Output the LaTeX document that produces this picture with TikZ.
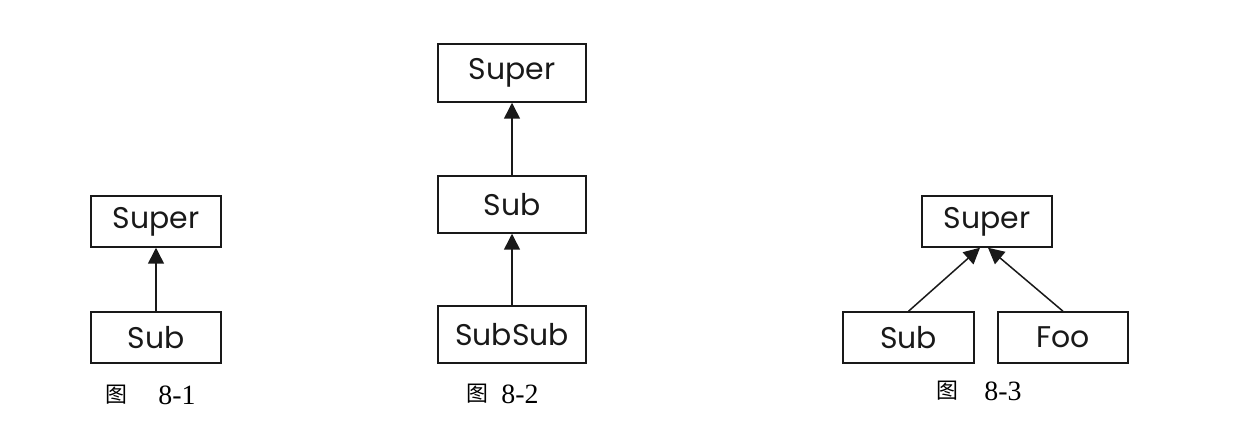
\documentclass[tikz,border=0pt]{standalone}
\usepackage{fontspec}
\setmainfont{Liberation Serif}
\newfontfamily\boxfont{Poppins}
\newfontfamily\cjk{Noto Sans CJK SC}
\usetikzlibrary{arrows.meta,calc}
\begin{document}
\begin{tikzpicture}[x=1bp,y=-1bp,
  cls/.style={draw=black!90, line width=1.5bp, inner sep=0pt, minimum height=51bp,
    font=\boxfont\fontsize{30}{32}\selectfont, text=black!90},
  inh/.style={draw=black!90, line width=1.5bp, -{Triangle[length=16bp,width=16bp]}},
  capz/.style={inner sep=0pt, font=\cjk\fontsize{22}{24}\selectfont},
  capn/.style={inner sep=0pt, font=\fontsize{28}{30}\selectfont}]
\useasboundingbox[fill=white] (0,0) rectangle (1250,434);
% Fig 8-1
\node[cls, minimum width=130bp] (supA) at (156,221.5) {Super};
\node[cls, minimum width=130bp] (subA) at (156,337.5) {Sub};
\draw[inh] (subA.north) -- (supA.south);
\node[capz] (capAz) at (116,395) {图};
\node[capn] (capAn) at (177,395) {8-1};
% Fig 8-2
\node[cls, minimum width=148bp, minimum height=58bp] (supB) at (512,73) {Super};
\node[cls, minimum width=148bp, minimum height=57bp] (subB) at (512,204.5) {Sub};
\node[cls, minimum width=148bp, minimum height=57bp] (subsubB) at (512,334.5) {SubSub};
\draw[inh] (subB.north) -- (supB.south);
\draw[inh] (subsubB.north) -- (subB.south);
\node[capz] (capBz) at (477,394) {图};
\node[capn] (capBn) at (520,394) {8-2};
% Fig 8-3
\node[cls, minimum width=130bp] (supC) at (987,221.5) {Super};
\node[cls, minimum width=131bp] (subC) at (908.5,337.5) {Sub};
\node[cls, minimum width=130bp] (fooC) at (1063,337.5) {Foo};
\coordinate (tipL) at ($(supC.south)+(-7,0)$);
\coordinate (tipR) at ($(supC.south)+(1,0)$);
\draw[inh] (subC.north) -- (tipL);
\draw[inh] (fooC.north) -- (tipR);
\node[capz] (capCz) at (947,391) {图};
\node[capn] (capCn) at (1003,391) {8-3};
\end{tikzpicture}
\end{document}
